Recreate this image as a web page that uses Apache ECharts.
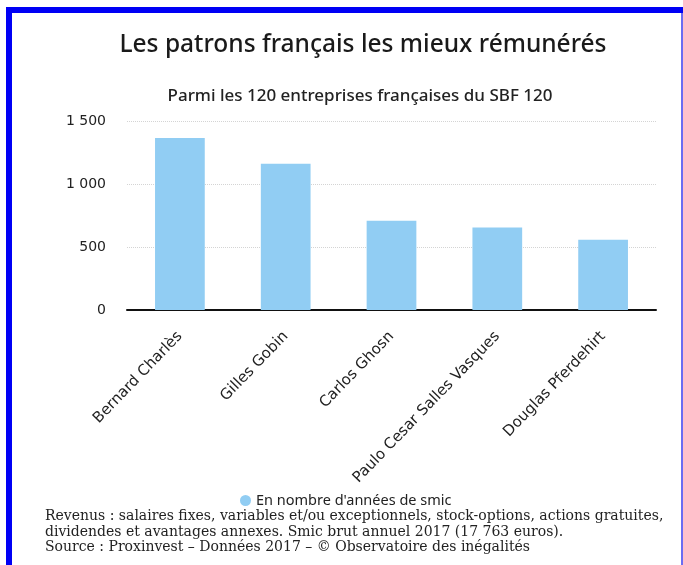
<!DOCTYPE html>
<html>
<head>
<meta charset="utf-8">
<script src="https://cdn.jsdelivr.net/npm/echarts@6/dist/echarts.min.js"></script>
<style>
  html, body { margin: 0; padding: 0; background: #fff; }
  #main { width: 683px; height: 565px; }
</style>
</head>
<body>
<div id="main"></div>
<script>
  const patrons = ['Bernard Charlès', 'Gilles Gobin', 'Carlos Ghosn', 'Paulo Cesar Salles Vasques', 'Douglas Pferdehirt']
  const anneesSmic = [1366, 1161, 708, 654, 558]
  const serieNom = 'En nombre d\'années de smic'
  const notes = [
    'Revenus : salaires fixes, variables et/ou exceptionnels, stock-options, actions gratuites,',
    'dividendes et avantages annexes. Smic brut annuel 2017 (17 763 euros).',
    'Source : Proxinvest – Données 2017 – © Observatoire des inégalités'
  ]

  // 1500 -> "1 500"
  const espaceMilliers = function(v) {
    return String(v).replace(/\B(?=(\d{3})+(?!\d))/g, ' ')
  }

  const myChart = echarts.init(document.getElementById('main'))
  myChart.setOption({
    backgroundColor: '#fff',
    title: [{
        text: 'Les patrons français les mieux rémunérés',
        left: 358,
        textAlign: 'center',
        top: 28,
        textStyle: {
          fontFamily: 'Noto Sans',
          fontSize: 24.5,
          fontWeight: 500,
          color: '#1a1a1a'
        }
      },
      {
        text: 'Parmi les 120 entreprises françaises du SBF 120',
        left: 355,
        textAlign: 'center',
        top: 83,
        textStyle: {
          fontFamily: 'Noto Sans',
          fontSize: 17,
          fontWeight: 500,
          color: '#222'
        }
      }
    ],
    legend: {
      data: [serieNom],
      left: 235,
      top: 488,
      icon: 'circle',
      itemWidth: 11,
      itemHeight: 11,
      itemGap: 9,
      textStyle: {
        fontFamily: 'Noto Sans',
        fontSize: 14.5,
        color: '#222'
      }
    },
    grid: {
      left: 127,
      right: 27,
      top: 121,
      bottom: 255,
      containLabel: false
    },
    xAxis: {
      type: 'category',
      data: patrons,
      axisLine: {
        lineStyle: {
          color: '#111',
          width: 2
        }
      },
      axisTick: {
        show: false
      },
      axisLabel: {
        interval: 0,
        rotate: 46,
        margin: 24,
        fontFamily: 'DejaVu Sans',
        fontSize: 15,
        color: '#222'
      }
    },
    yAxis: {
      type: 'value',
      min: 0,
      max: 1500,
      interval: 500,
      axisLine: {
        show: false
      },
      axisTick: {
        show: false
      },
      splitLine: {
        lineStyle: {
          color: '#d4d4d4',
          type: 'dotted'
        }
      },
      axisLabel: {
        margin: 21,
        fontFamily: 'DejaVu Sans',
        fontSize: 14,
        color: '#222',
        formatter: espaceMilliers
      }
    },
    series: [{
      name: serieNom,
      type: 'bar',
      data: anneesSmic,
      barWidth: '47%',
      itemStyle: {
        color: '#91cdf3'
      }
    }],
    graphic: [{
        type: 'rect',
        shape: { x: 6, y: 7, width: 677, height: 6 },
        style: { fill: '#0000f5' }
      },
      {
        type: 'rect',
        shape: { x: 6, y: 7, width: 6, height: 558 },
        style: { fill: '#0000f5' }
      },
      {
        type: 'rect',
        shape: { x: 681, y: 13, width: 2, height: 552 },
        style: { fill: '#6b6bf2' }
      },
      {
        type: 'text',
        left: 45,
        top: 509,
        style: {
          text: notes.join('\n'),
          font: '14px "DejaVu Serif"',
          fill: '#222',
          lineHeight: 15.5
        }
      }
    ]
  })
</script>
</body>
</html>
